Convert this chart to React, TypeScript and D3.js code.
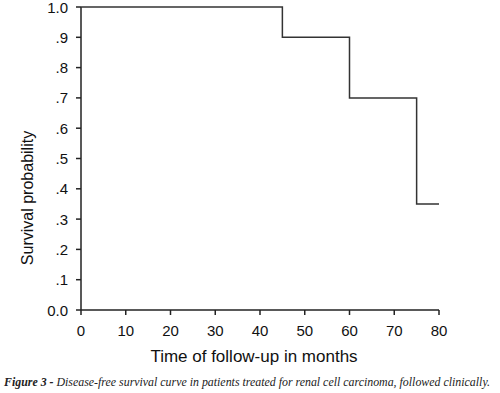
import React from "react";
import * as d3 from "d3";

const times = [0, 45, 60, 75, 80];
const survival = [1.0, 0.9, 0.7, 0.35, 0.35];
const xTicks = [0, 10, 20, 30, 40, 50, 60, 70, 80];
const yTicks = [0, 0.1, 0.2, 0.3, 0.4, 0.5, 0.6, 0.7, 0.8, 0.9, 1.0];
const yTickLabels = ["0.0", ".1", ".2", ".3", ".4", ".5", ".6", ".7", ".8", ".9", "1.0"];
const xTitle = "Time of follow-up in months";
const yTitle = "Survival probability";
const captionBold = "Figure 3 - ";
const captionText = "Disease-free survival curve in patients treated for renal cell carcinoma, followed clinically.";

export default function App() {
  const W = 500, H = 393;
  const x = d3.scaleLinear().domain([0, 80]).range([81, 439]);
  const y = d3.scaleLinear().domain([0, 1]).range([310, 7]);
  const pts: [number, number][] = times.map((t, i) => [t, survival[i]]);
  const line = d3.line<[number, number]>().x(d => x(d[0])).y(d => y(d[1])).curve(d3.curveStepAfter);
  const sans = "'Liberation Sans', Arial, sans-serif";
  return (
    <svg width={W} height={H} style={{ position: "absolute", left: 0, top: 0, background: "#fff" }}>
      <line x1={x(0)} x2={x(0)} y1={y(0)} y2={y(1)} stroke="#222" strokeWidth={1.5} />
      <line x1={x(0)} x2={x(80)} y1={y(0)} y2={y(0)} stroke="#222" strokeWidth={1.5} />
      {yTicks.map((v, i) => (
        <g key={"y" + i}>
          <line x1={x(0) - 5} x2={x(0)} y1={y(v)} y2={y(v)} stroke="#222" strokeWidth={1.5} />
          <text x={68} y={y(v) + 5.5} textAnchor="end" fontFamily={sans} fontSize={15} fill="#111">{yTickLabels[i]}</text>
        </g>
      ))}
      {xTicks.map((v, i) => (
        <g key={"x" + i}>
          <line x1={x(v)} x2={x(v)} y1={y(0)} y2={y(0) + 5} stroke="#222" strokeWidth={1.5} />
          <text x={x(v)} y={336} textAnchor="middle" fontFamily={sans} fontSize={15} fill="#111">{v}</text>
        </g>
      ))}
      <path d={line(pts) || ""} fill="none" stroke="#333" strokeWidth={1.5} />
      <text x={254} y={362} textAnchor="middle" fontFamily={sans} fontSize={17} fill="#111">{xTitle}</text>
      <text transform={`translate(33,198) rotate(-90)`} textAnchor="middle" fontFamily={sans} fontSize={16} fill="#111">{yTitle}</text>
      <text x={4} y={386} textLength={486} lengthAdjust="spacingAndGlyphs" fontFamily="'Liberation Serif', 'Times New Roman', serif" fontSize={11.8} fontStyle="italic" fill="#222">
        <tspan fontWeight="bold">{captionBold}</tspan>
        <tspan>{captionText}</tspan>
      </text>
    </svg>
  );
}
